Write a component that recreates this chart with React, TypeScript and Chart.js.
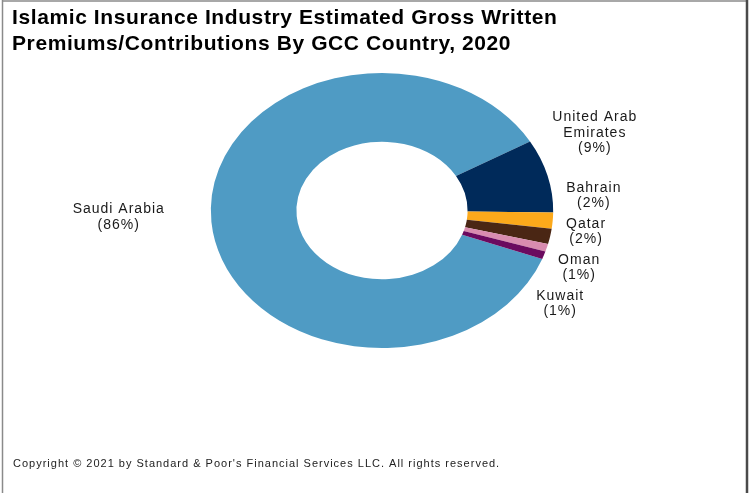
import React, { useEffect, useRef } from "react";
import { Chart, registerables } from "chart.js";

Chart.register(...registerables);

// ---- data ----
const countries = ["Saudi Arabia", "United Arab Emirates", "Bahrain", "Qatar", "Oman", "Kuwait"];
const labelLines = [["Saudi Arabia"], ["United Arab", "Emirates"], ["Bahrain"], ["Qatar"], ["Oman"], ["Kuwait"]];
const shares = [85.9, 8.6, 1.9, 1.8, 0.9, 0.9];
const colors = ["#4F9BC4", "#002A5A", "#FCA91B", "#4A2614", "#D98CB0", "#6B0A5F"];
const titleLines = [
  "Islamic Insurance Industry Estimated Gross Written",
  "Premiums/Contributions By GCC Country, 2020",
];
const footerText = "Copyright \u00A9 2021 by Standard & Poor's Financial Services LLC. All rights reserved.";

// ---- presentation ----
const SX = 1.245; // horizontal stretch of the ring
const LABEL_FONT = '14px "Liberation Sans", Arial, sans-serif';
const LH = 15.5;
const GAP_RIGHT = 13;
const GAP_LEFT = 46;
const VGAP = 5;
const LABEL_NUDGE_Y = [-10, -19, 0, 0, 0, 0];

type Item = { lines: string[]; w: number; h: number; side: number; y: number; ny: number; idx: number };

function layoutCluster(items: Item[]) {
  const offs = [0];
  for (let j = 1; j < items.length; j++) {
    offs.push(offs[j - 1] + items[j - 1].h / 2 + items[j].h / 2 + VGAP);
  }
  const meanN = items.reduce((a, b) => a + b.ny, 0) / items.length;
  const meanO = offs.reduce((a, b) => a + b, 0) / offs.length;
  items.forEach((it, j) => (it.y = meanN - meanO + offs[j]));
}

function spread(list: Item[]) {
  list.sort((a, b) => a.ny - b.ny);
  const clusters: Item[][] = list.map((it) => [it]);
  let changed = true;
  while (changed) {
    changed = false;
    for (let k = 0; k < clusters.length - 1; k++) {
      const A = clusters[k];
      const B = clusters[k + 1];
      const a = A[A.length - 1];
      const b = B[0];
      if (b.y - a.y < a.h / 2 + b.h / 2 + VGAP) {
        const merged = A.concat(B);
        layoutCluster(merged);
        clusters.splice(k, 2, merged);
        changed = true;
        break;
      }
    }
  }
}

const ringPlugin = {
  id: "ringPlugin",
  beforeDatasetsDraw(chart: any) {
    const arc = chart.getDatasetMeta(0).data[0];
    const ctx = chart.ctx;
    ctx.save();
    ctx.translate(arc.x, arc.y);
    ctx.scale(SX, 1);
    ctx.translate(-arc.x, -arc.y);
  },
  afterDatasetsDraw(chart: any) {
    const ctx = chart.ctx;
    ctx.restore();
    const meta = chart.getDatasetMeta(0);
    const data: number[] = chart.data.datasets[0].data;
    const total = data.reduce((a, b) => a + b, 0);
    ctx.save();
    ctx.font = LABEL_FONT;
    (ctx as any).letterSpacing = "1px";
    const items: Item[] = meta.data.map((arc: any, i: number) => {
      const mid = (arc.startAngle + arc.endAngle) / 2;
      const c = Math.cos(mid);
      const s = Math.sin(mid);
      const R = arc.outerRadius;
      const lines = [...labelLines[i], `(${Math.round((data[i] / total) * 100)}%)`];
      const w = Math.max(...lines.map((l) => ctx.measureText(l).width));
      const h = lines.length * LH;
      const side = c >= 0 ? 1 : -1;
      const gap = side > 0 ? GAP_RIGHT : GAP_LEFT;
      const y = arc.y + R * s + gap * s + (s * h) / 2;
      return { lines, w, h, side, y, ny: y, idx: i };
    });
    spread(items.filter((it) => it.side > 0));
    spread(items.filter((it) => it.side < 0));
    const arc0 = meta.data[0];
    const cx = arc0.x;
    const cy = arc0.y;
    const R = arc0.outerRadius;
    ctx.fillStyle = "#1a1a1a";
    ctx.textAlign = "center";
    ctx.textBaseline = "middle";
    items.forEach((it) => {
      const yc = it.y + LABEL_NUDGE_Y[it.idx];
      const top = yc - it.h / 2;
      const bottom = yc + it.h / 2;
      const yn = Math.min(Math.max(cy, top), bottom);
      const d = (yn - cy) / R;
      const xe = Math.abs(d) < 1 ? SX * R * Math.sqrt(1 - d * d) : 0;
      const gap = it.side > 0 ? GAP_RIGHT : GAP_LEFT;
      const x = cx + it.side * (xe + gap + it.w / 2);
      it.lines.forEach((line, j) => {
        ctx.fillText(line, x, top + LH / 2 + j * LH);
      });
    });
    ctx.restore();
  },
  afterDraw(chart: any) {
    const ctx = chart.ctx;
    ctx.save();
    // title
    ctx.fillStyle = "#000";
    ctx.font = 'bold 21px "Liberation Sans", Arial, sans-serif';
    (ctx as any).letterSpacing = "0.6px";
    ctx.textAlign = "left";
    ctx.textBaseline = "alphabetic";
    ctx.fillText(titleLines[0], 12, 24);
    ctx.fillText(titleLines[1], 12, 50);
    // footer
    ctx.font = '11px "Liberation Sans", Arial, sans-serif';
    (ctx as any).letterSpacing = "1px";
    ctx.fillStyle = "#222";
    ctx.fillText(footerText, 13, 467);
    // frame
    (ctx as any).letterSpacing = "0px";
    ctx.lineWidth = 2;
    ctx.strokeStyle = "#a8a8a8";
    ctx.beginPath();
    ctx.moveTo(2, 1);
    ctx.lineTo(747, 1);
    ctx.stroke();
    ctx.strokeStyle = "#8a8a8a";
    ctx.lineWidth = 1.5;
    ctx.beginPath();
    ctx.moveTo(2.5, 0);
    ctx.lineTo(2.5, 493);
    ctx.stroke();
    ctx.strokeStyle = "#4a4a4a";
    ctx.lineWidth = 2.5;
    ctx.beginPath();
    ctx.moveTo(747, 0);
    ctx.lineTo(747, 493);
    ctx.stroke();
    ctx.restore();
  },
};

export default function App() {
  const ref = useRef<HTMLCanvasElement | null>(null);
  useEffect(() => {
    if (!ref.current) return;
    const chart = new Chart(ref.current, {
      type: "doughnut",
      data: {
        labels: countries,
        datasets: [
          {
            data: shares,
            backgroundColor: colors,
            borderWidth: 0,
          },
        ],
      },
      options: {
        responsive: false,
        animation: false,
        rotation: 110.6,
        cutout: "50%",
        layout: { padding: { top: 73, bottom: 145, left: 100, right: 86 } },
        plugins: {
          legend: { display: false },
          title: { display: false },
          tooltip: { enabled: false },
        },
      },
      plugins: [ringPlugin],
    });
    return () => chart.destroy();
  }, []);
  return (
    <div style={{ position: "fixed", left: 0, top: 0, width: 750, height: 493, background: "#fff" }}>
      <canvas ref={ref} width={750} height={493} style={{ display: "block" }} />
    </div>
  );
}
